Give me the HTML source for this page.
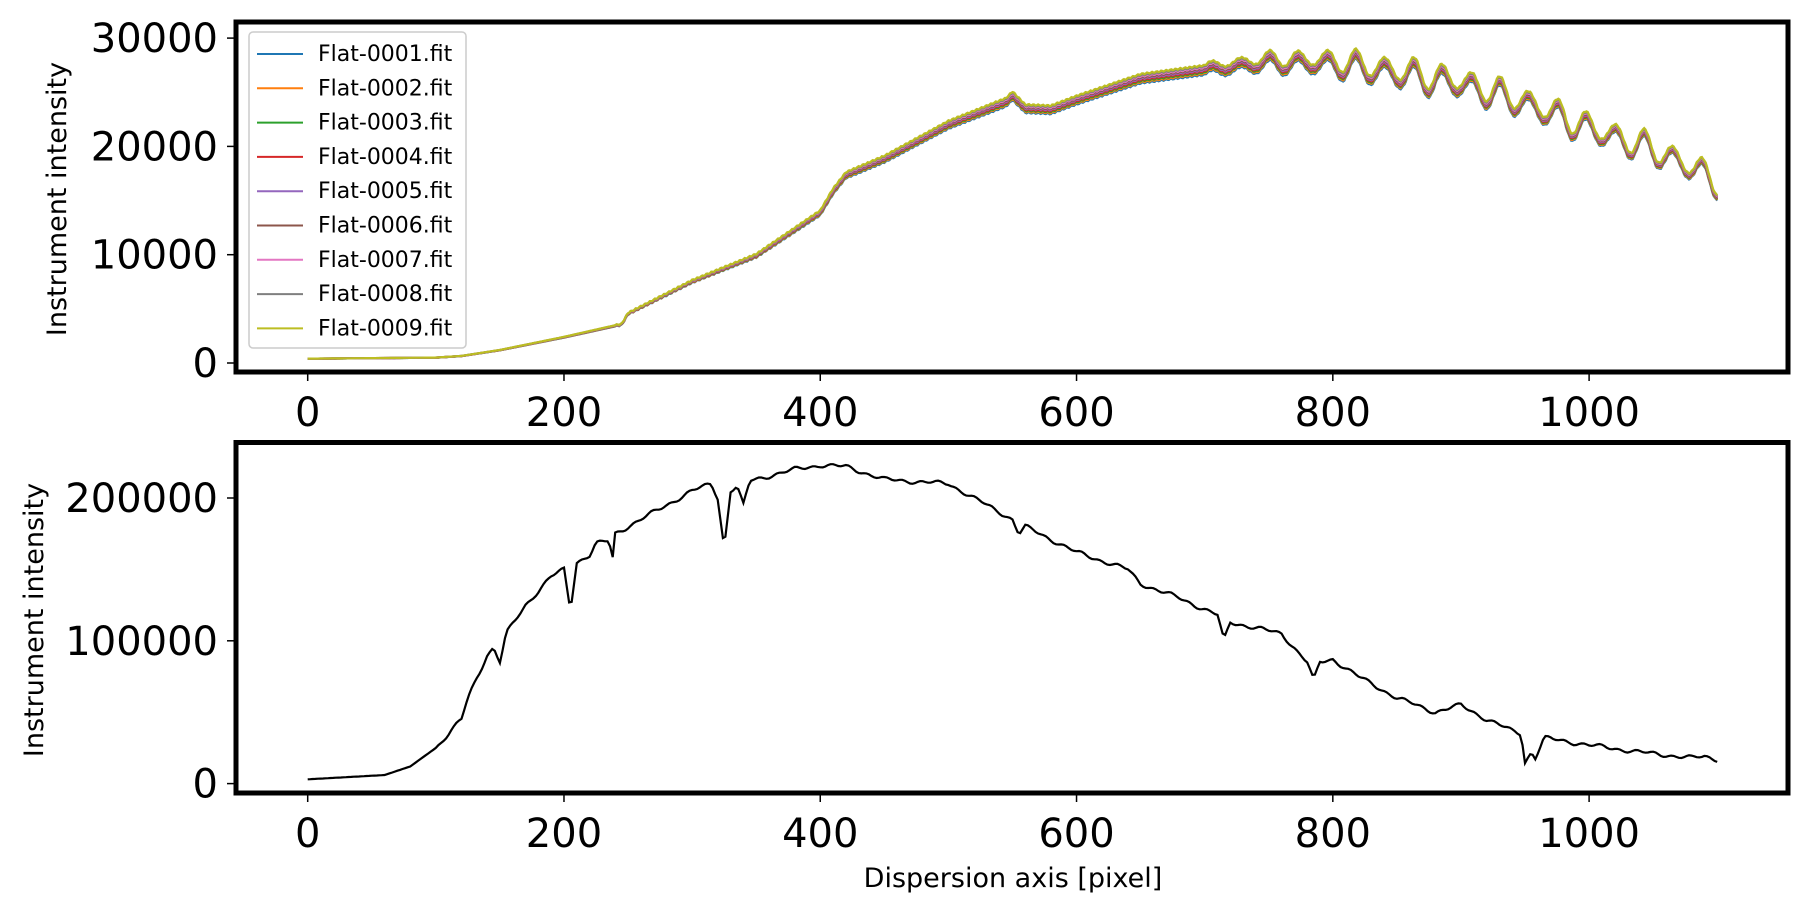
<!DOCTYPE html>
<html><head><meta charset="utf-8"><style>
html,body{margin:0;padding:0;background:#fff;width:1807px;height:913px;overflow:hidden}
svg text{font-family:"DejaVu Sans","Liberation Sans",sans-serif;fill:#000}
</style></head><body>
<svg id="s" width="1807" height="913" xmlns="http://www.w3.org/2000/svg"></svg>
<script>
const s=document.getElementById('s');let h='';
const X=v=>307.7+v*1.2814;
const Y1=v=>363-v*0.01083;
const Y2=v=>783.6-v*0.001428;
function frame(t,b){h+=`<rect x="236" y="${t}" width="1552" height="${b-t}" fill="none" stroke="#000" stroke-width="5"/>`;}
frame(22,372);frame(442.5,793);
[0,200,400,600,800,1000].forEach(v=>{
 [[372,411],[793,832]].forEach(([b,ty])=>{
  h+=`<line x1="${X(v)}" y1="${b+2}" x2="${X(v)}" y2="${b+9}" stroke="#000" stroke-width="1.5"/>`;
  h+=`<text x="${X(v)}" y="${ty+15}" font-size="40" text-anchor="middle">${v}</text>`;
 });
});
[0,10000,20000,30000].forEach(v=>{h+=`<line x1="227" y1="${Y1(v)}" x2="234" y2="${Y1(v)}" stroke="#000" stroke-width="1.5"/><text x="218" y="${Y1(v)+14}" font-size="40" text-anchor="end">${v}</text>`;});
[0,100000,200000].forEach(v=>{h+=`<line x1="227" y1="${Y2(v)}" x2="234" y2="${Y2(v)}" stroke="#000" stroke-width="1.5"/><text x="218" y="${Y2(v)+14}" font-size="40" text-anchor="end">${v}</text>`;});
h+=`<text transform="translate(66,199) rotate(-90)" font-size="27" text-anchor="middle">Instrument intensity</text>`;
h+=`<text transform="translate(43,620) rotate(-90)" font-size="27" text-anchor="middle">Instrument intensity</text>`;
h+=`<text x="1013" y="887" font-size="27" text-anchor="middle">Dispersion axis [pixel]</text>`;
const tk=[[0,400],[100,500],[120,650],[150,1200],[200,2400],[245,3600],[250,4600],[300,7600],[350,10000],[400,14000],[410,16000],[420,17500],[450,19000],[500,22200],[545,24300],[550,24900],[560,23700],[580,23600],[600,24500],[650,26500],[700,27300],[750,28000],[800,27900],[850,27000],[900,26000],[950,24200],[1000,21800],[1050,19800],[1080,18200],[1100,16800]];
function interp(k,x){for(let i=1;i<k.length;i++){if(x<=k[i][0]){const a=k[i-1],b=k[i];return a[1]+(b[1]-a[1])*(x-a[0])/(b[0]-a[0]);}}return k[k.length-1][1];}
const cols=['#1f77b4','#ff7f0e','#2ca02c','#d62728','#9467bd','#8c564b','#e377c2','#7f7f7f','#bcbd22'];
cols.forEach((c,i)=>{let p='';for(let x=0;x<=1100;x+=1){let y=interp(tk,x);if(x>700){const amp=Math.min(1400,300+(x-700)*8);y+=amp*Math.sin((x-700)/22.5*2*Math.PI)*(0.8+0.2*Math.sin(x*0.11));}if(x>240)y+=Math.sin(x*1.7)*60;y*=0.975+0.004*i;p+=(x?'L':'M')+X(x).toFixed(1)+' '+Y1(y).toFixed(1);}h+=`<path d="${p}" fill="none" stroke="${c}" stroke-width="2.2"/>`;});
h+=`<rect x="249" y="32" width="217" height="316" rx="4" fill="#fff" fill-opacity="0.85" stroke="#ccc" stroke-width="1.5"/>`;
cols.forEach((c,i)=>{const y=54+i*34.3;h+=`<line x1="257" y1="${y}" x2="303" y2="${y}" stroke="${c}" stroke-width="2"/><text x="318" y="${y+7}" font-size="22">Flat-000${i+1}.fit</text>`;});
const bk=[[0,3],[60,6],[80,12],[100,25],[110,35],[120,45],[125,60],[130,70],[140,90],[145,95],[150,85],[155,105],[170,125],[190,145],[200,150],[205,122],[210,155],[220,160],[225,168],[235,170],[238,158],[240,175],[260,185],[280,195],[300,205],[315,210],[320,200],[325,165],[330,205],[335,208],[340,195],[345,212],[380,220],[400,223],[420,222],[450,213],[500,210],[530,195],[550,185],[555,175],[560,180],[600,162],[640,150],[650,140],[680,130],[710,118],[715,100],[720,113],[760,105],[780,85],[785,72],[790,85],[800,87],[820,75],[840,65],[850,60],[880,50],[900,55],[920,45],[940,37],[947,35],[950,15],[955,22],[958,18],[965,32],[1000,27],[1040,22],[1060,20],[1080,18],[1090,19],[1100,17]];
let p='';for(let x=0;x<=1100;x+=2){let y=interp(bk,x)*1000;if(x>100)y+=Math.sin(x*0.45)*900+Math.sin(x*0.17)*900;p+=(x?'L':'M')+X(x).toFixed(1)+' '+Y2(y).toFixed(1);}
h+=`<path d="${p}" fill="none" stroke="#000" stroke-width="2.2"/>`;
s.innerHTML=h;
</script>
</body></html>
